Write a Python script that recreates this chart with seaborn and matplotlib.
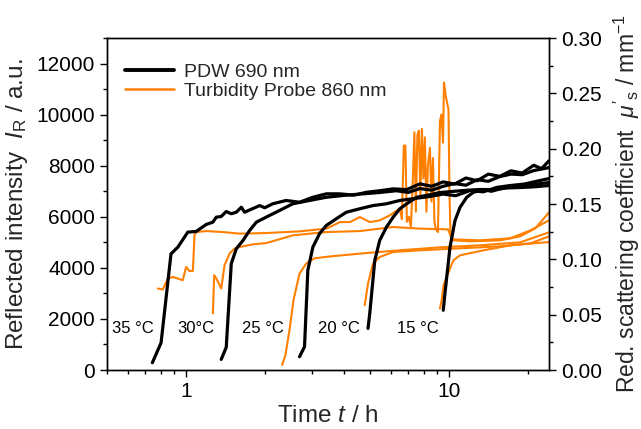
import matplotlib
matplotlib.use("Agg")
import matplotlib.pyplot as plt
import seaborn as sns
from matplotlib.lines import Line2D
from matplotlib.ticker import (MultipleLocator, LogLocator, NullFormatter, FixedLocator,
                               FixedFormatter, FormatStrFormatter)

sns.set_theme(style="ticks")
plt.rcParams['font.family'] = ['Liberation Sans', 'DejaVu Sans']
plt.rcParams['mathtext.fontset'] = 'custom'
plt.rcParams['mathtext.rm'] = 'Liberation Sans'
plt.rcParams['mathtext.it'] = 'Liberation Sans:italic'
plt.rcParams['mathtext.bf'] = 'Liberation Sans:bold'

# ---------------- data: turbidity probe (left axis, reflected intensity) ----------------
o35_t = [0.780, 0.815, 0.852, 0.890, 0.930, 0.971, 1.000, 1.029, 1.061, 1.076, 1.092, 1.192, 1.381,
         1.597, 2.020, 2.700, 3.414, 3.85, 4.20, 4.58, 5.00, 5.45, 5.95, 6.502, 6.616, 6.733, 6.823,
         6.914, 7.036, 7.161, 7.287, 7.384, 7.482, 7.582, 7.682, 7.784, 7.886, 7.991, 8.097, 8.204,
         8.313, 8.461, 8.573, 8.686, 8.802, 8.919, 9.078, 9.240, 9.363, 9.487, 9.571, 9.696, 9.826,
         9.956, 10.04, 10.13, 10.40, 12.02, 15.65, 18.66, 21.3, 24.0]
o35_i = [3191, 3152, 3582, 3644, 3582, 3515, 4035, 3879, 3879, 5273, 5402, 5441, 5402,
         5340, 5363, 5429, 5535, 5793, 5793, 5990, 5793, 5860, 6054, 6328, 5900, 8789, 8789,
         5800, 6000, 5600, 7500, 9310, 6200, 9200, 9375, 6800, 9440, 7500, 9110, 6200,
         8000, 8700, 6600, 8300, 5800, 5500, 5400, 9760, 10000, 8900, 11260, 10800, 10480,
         10200, 7000, 5300, 5078, 5039, 5078, 5234, 5547, 6171]

o30_t = [1.264, 1.279, 1.302, 1.360, 1.400, 1.463, 1.529, 1.597, 1.797, 2.020, 2.545, 3.414, 4.575,
         6.13, 7.75, 9.91, 10.27, 13.13, 17.1, 20.4, 24.0]
o30_i = [2215, 3711, 3594, 3191, 4101, 4558, 4754, 4816, 4922, 4972, 5273, 5402, 5440,
         5600, 5535, 5508, 5117, 5078, 5156, 5468, 5859]

o25_t = [2.319, 2.387, 2.473, 2.561, 2.700, 2.863, 3.08, 3.609, 4.853, 6.50, 9.24, 13.13, 18.66, 24.0]
o25_i = [195, 586, 1562, 2734, 3777, 4168, 4375, 4458, 4580, 4687, 4804, 4882, 5000, 5390]

o20_t = [4.779, 4.92, 5.14, 5.45, 6.13, 7.75, 11.0, 15.65, 20.4, 24.0]
o20_i = [2539, 3387, 4168, 4425, 4621, 4687, 4765, 4843, 4960, 5234]

o15_t = [9.24, 9.38, 9.53, 9.80, 10.09, 10.39, 11.02, 13.52, 17.1, 24.0]
o15_i = [2410, 2734, 3320, 3644, 3984, 4297, 4492, 4687, 4882, 5011]

# ---------------- data: PDW (right axis, reduced scattering coefficient) ----------------
b35_t = [0.744, 0.803, 0.876, 0.930, 1.015, 1.092, 1.192, 1.264, 1.302, 1.360, 1.421, 1.485, 1.552,
         1.622, 1.669, 1.905, 1.990, 2.135, 2.401, 2.70, 3.035, 3.414, 3.837, 4.35, 4.853, 5.45,
         6.13, 6.9, 7.75, 8.6, 9.5, 10.5, 11.6, 12.8, 14.1, 15.6, 17.2, 19.0, 21.0, 22.5, 24.0]
b35_mu = [0.0066, 0.0246, 0.105, 0.111, 0.1246, 0.1252, 0.1315, 0.1336, 0.1381, 0.1387, 0.1432, 0.1412,
          0.1426, 0.1471, 0.1426, 0.1486, 0.1466, 0.1502, 0.1532, 0.1516, 0.1561, 0.1592, 0.1592, 0.158,
          0.1606, 0.162, 0.1637, 0.163, 0.1682, 0.166, 0.170, 0.168, 0.1735, 0.171, 0.177, 0.175, 0.180,
          0.178, 0.185, 0.182, 0.189]

b30_t = [1.360, 1.421, 1.485, 1.552, 1.646, 1.744, 1.850, 1.962, 2.074, 2.265, 2.545, 2.948, 3.414,
         3.95, 4.6, 5.45, 6.3, 7.0, 7.75, 8.6, 9.5, 10.5, 11.6, 12.8, 14.1, 15.6, 17.2, 19.0, 21.0, 24.0]
b30_mu = [0.0096, 0.0205, 0.0961, 0.1096, 0.1171, 0.1261, 0.1336, 0.1367, 0.1396, 0.1441, 0.1502,
          0.1532, 0.1561, 0.1577, 0.159, 0.1604, 0.162, 0.1605, 0.164, 0.1625, 0.166, 0.1685, 0.167,
          0.172, 0.1705, 0.1748, 0.177, 0.1765, 0.1802, 0.1829]

b25_t = [2.70, 2.821, 2.904, 3.035, 3.218, 3.414, 3.727, 4.07, 4.575, 5.14, 5.78, 6.5, 7.4, 8.46,
         9.5, 10.6, 12.03, 13.5, 15.2, 17.1, 19.3, 21.5, 24.0]
b25_mu = [0.012, 0.021, 0.0901, 0.1111, 0.1232, 0.1306, 0.1367, 0.1426, 0.1457, 0.1486, 0.1502,
          0.1532, 0.155, 0.1568, 0.159, 0.1575, 0.1622, 0.161, 0.165, 0.1667, 0.168, 0.1705, 0.173]

b20_t = [4.92, 4.995, 5.22, 5.45, 5.78, 6.13, 6.5, 6.9, 7.53, 8.3, 9.24, 10.5, 11.8, 13.13, 14.8,
         16.6, 18.66, 21.0, 24.0]
b20_mu = [0.0376, 0.0511, 0.0991, 0.1171, 0.1291, 0.1381, 0.1457, 0.1502, 0.1561, 0.158, 0.1604,
          0.1615, 0.1625, 0.1631, 0.163, 0.1645, 0.1649, 0.1655, 0.1667]

b15_t = [9.51, 9.65, 10.09, 10.54, 11.02, 11.68, 12.38, 13.5, 14.5, 15.65, 17.3, 19.3, 21.5, 24.0]
b15_mu = [0.054, 0.0691, 0.1111, 0.1351, 0.1471, 0.1561, 0.1606, 0.163, 0.1615, 0.1637, 0.166,
          0.1658, 0.168, 0.1694]

temp_labels = ["35 °C", "30°C", "25 °C", "20 °C", "15 °C"]
temp_label_t = [0.522, 0.924, 1.636, 3.162, 6.34]
temp_label_i = [1640, 1640, 1640, 1640, 1640]

legend_labels = ["PDW 690 nm", "Turbidity Probe 860 nm"]

ORANGE = "#ff8000"
BLACK = "#000000"

fig = plt.figure(figsize=(6.41, 4.29), dpi=100)
ax = fig.add_axes([0.1669, 0.1375, 0.6895, 0.7739])
ax2 = ax.twinx()

for tt, ii in [(o35_t, o35_i), (o30_t, o30_i), (o25_t, o25_i), (o20_t, o20_i), (o15_t, o15_i)]:
    sns.lineplot(x=tt, y=ii, ax=ax, color=ORANGE, lw=1.5, estimator=None, sort=False)

for tt, mm in [(b35_t, b35_mu), (b30_t, b30_mu), (b25_t, b25_mu), (b20_t, b20_mu), (b15_t, b15_mu)]:
    sns.lineplot(x=tt, y=mm, ax=ax2, color=BLACK, lw=2.3, estimator=None, sort=False)

ax.set_xscale('log')
ax.set_xlim(0.5, 24)
ax.set_ylim(0, 13000)
ax2.set_ylim(0, 0.30)

ax.xaxis.set_major_locator(FixedLocator([1, 10]))
ax.xaxis.set_major_formatter(FixedFormatter(["1", "10"]))
ax.xaxis.set_minor_locator(LogLocator(base=10, subs=[2, 3, 4, 5, 6, 7, 8, 9]))
ax.xaxis.set_minor_formatter(NullFormatter())
ax.yaxis.set_major_locator(MultipleLocator(2000))
ax.yaxis.set_minor_locator(MultipleLocator(1000))
ax2.yaxis.set_major_locator(MultipleLocator(0.05))
ax2.yaxis.set_minor_locator(MultipleLocator(0.025))
ax2.yaxis.set_major_formatter(FormatStrFormatter('%.2f'))

for a in (ax, ax2):
    for s in a.spines.values():
        s.set_visible(True)
        s.set_color('black')
        s.set_linewidth(1.0)
    a.tick_params(which='major', direction='out', length=5, width=1, colors='black', labelsize=15)
    a.tick_params(which='minor', direction='out', length=3, width=1, colors='black')
ax.tick_params(axis='y', which='both', right=False)
ax.tick_params(axis='x', which='both', top=False)
ax2.tick_params(axis='y', which='both', left=False, right=True)

ax.set_xlabel(r"Time $t$ / h", fontsize=17.5, labelpad=3)
ax.set_ylabel(r"Reflected intensity  $I_\mathrm{R}$ / a.u.", fontsize=17.5, labelpad=5)
ax2.set_ylabel(r"Red. scattering coefficient  $\mu'_\mathrm{s}$ / mm$^{-1}$", fontsize=16.5, labelpad=7)

for lab, tx, iy in zip(temp_labels, temp_label_t, temp_label_i):
    ax.text(tx, iy, lab, fontsize=12, ha='left', va='center', color='black')

handles = [Line2D([], [], color=BLACK, lw=2.8), Line2D([], [], color=ORANGE, lw=1.8)]
ax2.legend(handles, legend_labels, loc='upper left', bbox_to_anchor=(0.015, 0.96), frameon=False,
           fontsize=14, handlelength=2.5, handletextpad=0.5, labelspacing=0.1, borderaxespad=0.2)

fig.savefig("out.png", dpi=100)
